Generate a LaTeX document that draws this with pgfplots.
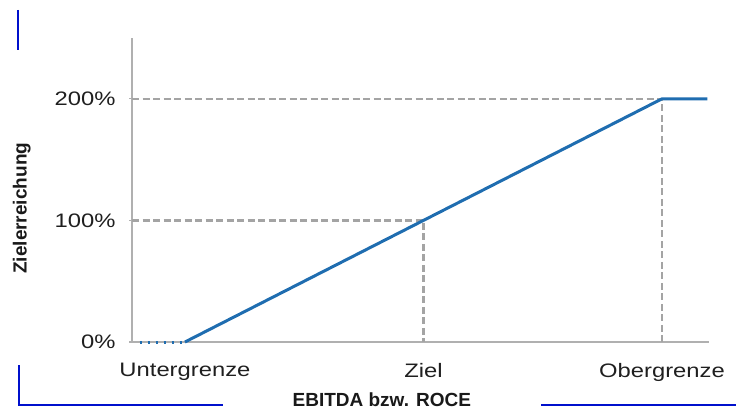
\documentclass[border=0pt]{standalone}
\usepackage{fontspec}
\setmainfont{Liberation Sans}
\usepackage{pgfplots}
\pgfplotsset{compat=1.18}
\definecolor{lineblue}{HTML}{1F6DB0}
\definecolor{axisgray}{HTML}{B0B0B0}
\definecolor{dashgray}{HTML}{A4A4A4}
\definecolor{decoblue}{HTML}{0010CC}
\begin{document}
\begin{tikzpicture}[x=1pt,y=1pt]
\useasboundingbox (0,0) rectangle (736,410);
% blue corner marks of the slide
\draw[decoblue, line width=2.8pt] (18,400) -- (18,360);
\draw[decoblue, line width=2.8pt] (19,45) -- (19,5) -- (223,5);
\draw[decoblue, line width=2.8pt] (541,5) -- (736,5);
\begin{axis}[
  at={(132pt,68pt)}, anchor=south west,
  scale only axis, width=577pt, height=304pt,
  xmin=-0.222, xmax=2.197,
  ymin=0, ymax=250,
  axis lines=left,
  axis line style={-, draw=axisgray, line width=1.6pt},
  xtick={0,1,2},
  xticklabels={Untergrenze,Ziel,Obergrenze},
  ytick={0,100,200},
  yticklabels={0\%,100\%,200\%},
  xtick style={draw=none},
  ytick style={draw=axisgray, line width=1.2pt},
  major tick length=5pt, tick align=center,
  tick label style={font=\fontsize{19.5}{22}\selectfont, text=black!88, xscale=1.22},
  xticklabel style={anchor=north, yshift=-15pt},
  yticklabel style={anchor=east, xshift=-8pt},
  xlabel={EBITDA bzw. ROCE},
  ylabel={Zielerreichung},
  label style={font=\fontsize{19}{22}\selectfont\bfseries, text=black!90},
  xlabel style={at={(axis description cs:0.433,-0.191)}, anchor=center},
  ylabel style={at={(axis description cs:-0.191,0.44)}, anchor=center},
  clip=false,
]
\addplot[dashgray, line width=2.4pt, dash pattern=on 7pt off 3.5pt] coordinates {(-0.222,100)(1,100)(1,0)};
\addplot[dashgray, line width=2.4pt, dash pattern=on 7pt off 3.5pt] coordinates {(-0.222,200)(2,200)(2,0)};
\addplot[lineblue, line width=3pt, dash pattern=on 2pt off 6pt] coordinates {(-0.19,0)(0,0)};
\addplot[lineblue, line width=3pt] coordinates {(0,0)(2,200)(2.19,200)};
\end{axis}
\end{tikzpicture}
\end{document}
